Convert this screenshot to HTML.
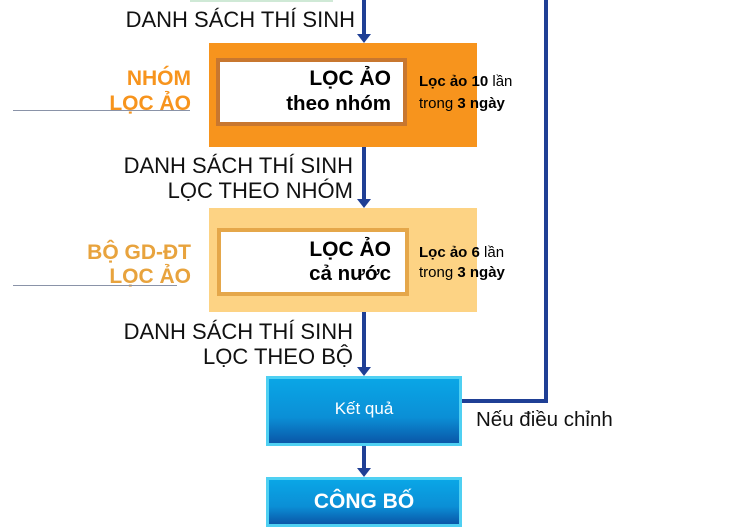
<!DOCTYPE html>
<html><head><meta charset="utf-8"><style>
*{margin:0;padding:0;box-sizing:border-box}
body{width:734px;height:513px;background:#fff;position:relative;overflow:hidden;font-family:"Liberation Sans",Arial,sans-serif}
.a{position:absolute}
.t{position:absolute;white-space:nowrap;line-height:1}
.lbl{font-size:22px;color:#111;text-align:right}
.nav{background:#1f3f95}
</style></head><body>
<div class="a" style="left:190px;top:0;width:143px;height:2px;background:#cfe9d6"></div>

<div class="a nav" style="left:362px;top:0;width:4px;height:36px"></div>
<div class="a" style="left:357px;top:34px;width:0;height:0;border-left:7px solid transparent;border-right:7px solid transparent;border-top:9px solid #1f3f95"></div>
<div class="a nav" style="left:362px;top:147px;width:4px;height:54px"></div>
<div class="a" style="left:357px;top:199px;width:0;height:0;border-left:7px solid transparent;border-right:7px solid transparent;border-top:9px solid #1f3f95"></div>
<div class="a nav" style="left:362px;top:312px;width:4px;height:57px"></div>
<div class="a" style="left:357px;top:367px;width:0;height:0;border-left:7px solid transparent;border-right:7px solid transparent;border-top:9px solid #1f3f95"></div>
<div class="a nav" style="left:362px;top:446px;width:4px;height:24px"></div>
<div class="a" style="left:357px;top:468px;width:0;height:0;border-left:7px solid transparent;border-right:7px solid transparent;border-top:9px solid #1f3f95"></div>
<div class="a nav" style="left:544px;top:0;width:4px;height:403px"></div>
<div class="a nav" style="left:462px;top:399px;width:86px;height:4px"></div>

<div class="t lbl" style="left:100px;width:255px;top:9px">DANH SÁCH THÍ SINH</div>

<div class="a" style="left:209px;top:43px;width:268px;height:104px;background:#f7941d"></div>
<div class="a" style="left:216px;top:58px;width:191px;height:68px;background:#fff;border:4px solid #c8772f"></div>
<div class="t" style="left:226px;width:165px;top:68px;font-size:21px;font-weight:bold;text-align:right">LỌC ẢO</div>
<div class="t" style="left:226px;width:165px;top:94px;font-size:20.5px;font-weight:bold;text-align:right">theo nhóm</div>
<div class="t" style="left:419px;top:74px;font-size:15px"><b>Lọc ảo 10</b> lần</div>
<div class="t" style="left:419px;top:96px;font-size:15px">trong <b>3 ngày</b></div>
<div class="t" style="left:40px;width:151px;top:68px;font-size:21px;font-weight:bold;color:#f7941d;text-align:right">NHÓM</div>
<div class="t" style="left:40px;width:151px;top:93px;font-size:21px;font-weight:bold;color:#f7941d;text-align:right">LỌC ẢO</div>
<div class="a" style="left:13px;top:110px;width:177px;height:1px;background:#8a93a8"></div>

<div class="t lbl" style="left:90px;width:263px;top:155px">DANH SÁCH THÍ SINH</div>
<div class="t lbl" style="left:90px;width:263px;top:180px">LỌC THEO NHÓM</div>

<div class="a" style="left:209px;top:208px;width:268px;height:104px;background:#fdd384"></div>
<div class="a" style="left:217px;top:228px;width:192px;height:68px;background:#fff;border:4px solid #e5a74a"></div>
<div class="t" style="left:226px;width:165px;top:239px;font-size:21px;font-weight:bold;text-align:right">LỌC ẢO</div>
<div class="t" style="left:226px;width:165px;top:264px;font-size:20.5px;font-weight:bold;text-align:right">cả nước</div>
<div class="t" style="left:419px;top:245px;font-size:15px"><b>Lọc ảo 6</b> lần</div>
<div class="t" style="left:419px;top:265px;font-size:15px">trong <b>3 ngày</b></div>
<div class="t" style="left:30px;width:161px;top:242px;font-size:21px;font-weight:bold;color:#e8a33d;text-align:right">BỘ GD-ĐT</div>
<div class="t" style="left:30px;width:161px;top:266px;font-size:21px;font-weight:bold;color:#e8a33d;text-align:right">LỌC ẢO</div>
<div class="a" style="left:13px;top:285px;width:164px;height:1px;background:#8a93a8"></div>

<div class="t lbl" style="left:90px;width:263px;top:321px">DANH SÁCH THÍ SINH</div>
<div class="t lbl" style="left:90px;width:263px;top:346px">LỌC THEO BỘ</div>

<div class="a" style="left:266px;top:376px;width:196px;height:70px;border:3px solid #4fd0f2;background:linear-gradient(#0aa6e6,#0b8fd6 60%,#0a57a8)"></div>
<div class="t" style="left:266px;width:196px;top:400px;font-size:17px;color:#fff;text-align:center">Kết quả</div>
<div class="t" style="left:476px;top:410px;font-size:20.5px;color:#111">Nếu điều chỉnh</div>
<div class="a" style="left:266px;top:477px;width:196px;height:50px;border:3px solid #4fd0f2;background:linear-gradient(#0aa6e6,#0b8fd6 60%,#0a57a8)"></div>
<div class="t" style="left:266px;width:196px;top:491px;font-size:21px;font-weight:bold;color:#fff;text-align:center">CÔNG BỐ</div>
</body></html>
